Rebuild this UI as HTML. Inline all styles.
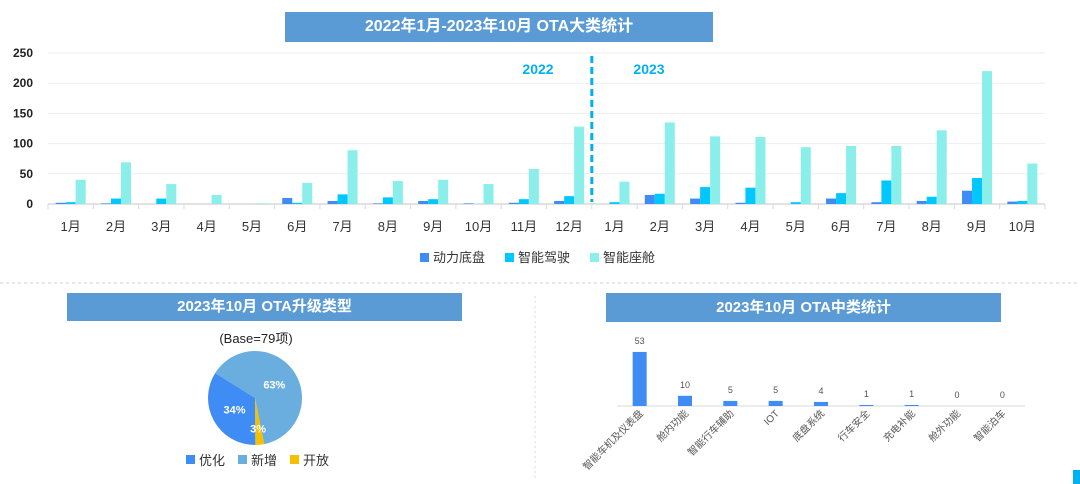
<!DOCTYPE html>
<html><head><meta charset="utf-8">
<style>
body{margin:0;background:#fff;font-family:"Liberation Sans","Noto Sans CJK SC",sans-serif;}
#wrap{position:relative;width:1080px;height:484px;overflow:hidden;}
.tb{position:absolute;background:#5b9bd5;color:#fff;font-weight:bold;text-align:center;font-size:16px;}
</style></head><body>
<div id="wrap">
<div class="tb" style="left:285px;top:12px;width:428px;height:30px;line-height:30px;">2022年1月-2023年10月 OTA大类统计</div>
<div class="tb" style="left:67px;top:293px;width:395px;height:28px;line-height:28px;font-size:15px;">2023年10月 OTA升级类型</div>
<div class="tb" style="left:606px;top:293px;width:395px;height:29px;line-height:29px;font-size:15px;">2023年10月 OTA中类统计</div>
<div style="position:absolute;left:1073px;top:470px;width:7px;height:14px;background:#00b0f0;"></div>
<svg id="svg" width="1080" height="484" style="position:absolute;left:0;top:0;"></svg>
</div>
<script>
const months=["1月","2月","3月","4月","5月","6月","7月","8月","9月","10月","11月","12月","1月","2月","3月","4月","5月","6月","7月","8月","9月","10月"];
const chassis=[2,1,0,0,0,10,5,1,5,1,2,5,0,15,9,2,0,9,3,5,22,4];
const adas=[3,9,9,0,0,2,16,11,8,0,8,13,3,17,28,27,3,18,39,12,43,5];
const cockpit=[40,69,33,15,1,35,89,38,40,33,58,128,37,135,112,111,94,96,96,122,220,67];
const yTicks=[0,50,100,150,200,250];
const pieLabels=["新增","开放","优化"];
const pieValues=[63,3,34];
const subCats=["智能车机及仪表盘","舱内功能","智能行车辅助","IOT","底盘系统","行车安全","充电补能","舱外功能","智能泊车"];
const subValues=[53,10,5,5,4,1,1,0,0];

const NS="http://www.w3.org/2000/svg";
const svg=document.getElementById('svg');
function mk(t,a,p){const e=document.createElementNS(NS,t);for(const k in a)e.setAttribute(k,a[k]);(p||svg).appendChild(e);return e;}
const X0=48,X1=1045,Y0=204,Y1=53;
const cw=(X1-X0)/months.length;
const ys=v=>Y0-(v/250)*(Y0-Y1);
yTicks.forEach(t=>{
  const l=mk('line',{x1:X0,x2:X1,y1:ys(t),y2:ys(t),stroke:t?'#eeeeee':'#d9d9d9','stroke-width':t?1:1.5});
  
  
  const tx=mk('text',{x:33,y:ys(t)+4,'text-anchor':'end','font-size':12,'font-weight':'bold',fill:'#222'});
  tx.textContent=t;
  
  
});
for(let i=0;i<=months.length;i++){
  const l=mk('line',{x1:X0+i*cw,x2:X0+i*cw,y1:Y0,y2:Y0+5,stroke:'#d9d9d9'});
  
  
}
const series=[[chassis,'#3f8cf5'],[adas,'#00c8ff'],[cockpit,'#8aeeea']];
const bw=10;
months.forEach((m,i)=>{
  const cx=X0+(i+0.5)*cw;
  series.forEach((s,j)=>{
    const v=s[0][i];
    const r=mk('rect',{x:cx-15+j*bw,y:ys(v),width:bw,height:Y0-ys(v),fill:s[1]});
    
    
  });
  const t=mk('text',{x:cx,y:231,'text-anchor':'middle','font-size':13,fill:'#333'});
  t.textContent=m;
  
  
});
const dv=mk('line',{x1:X0+12*cw,x2:X0+12*cw,y1:56,y2:202,stroke:'#00b0f0','stroke-width':3,'stroke-dasharray':'7,4'});


[["2022",538],["2023",649]].forEach(a=>{const t=mk('text',{x:a[1],y:74,'text-anchor':'middle','font-size':14,'font-weight':'bold',fill:'#00b0f0'});t.textContent=a[0];

});
[["动力底盘",'#3f8cf5',420],["智能驾驶",'#00c8ff',505],["智能座舱",'#8aeeea',590]].forEach(a=>{
  const r=mk('rect',{x:a[2],y:253,width:9,height:9,fill:a[1]});
  
  
  const t=mk('text',{x:a[2]+13,y:262,'font-size':13,fill:'#333'});t.textContent=a[0];
  
  
});
const hs=mk('line',{x1:0,x2:1080,y1:283,y2:283,stroke:'#d0d0d0','stroke-dasharray':'3,3'});


const vs=mk('line',{x1:535,x2:535,y1:296,y2:478,stroke:'#d8d8d8','stroke-dasharray':'2,3'});


const base=mk('text',{x:256,y:343,'text-anchor':'middle','font-size':13,fill:'#222'});base.textContent="(Base=79项)";


const PCX=255,PCY=398,PR=47;
const pieColors=['#6aaee0','#f5c000','#3f8cf5'];
const total=pieValues.reduce((a,b)=>a+b,0);
let ang=302*Math.PI/180;
const labelPos=[];
pieValues.forEach((v,i)=>{
  const a2=ang+v/total*2*Math.PI;
  const p=(a)=>[PCX+PR*Math.sin(a),PCY-PR*Math.cos(a)];
  const s=p(ang),e=p(a2);
  const path=mk('path',{d:`M${PCX},${PCY}L${s[0]},${s[1]}A${PR},${PR} 0 ${a2-ang>Math.PI?1:0} 1 ${e[0]},${e[1]}Z`,fill:pieColors[i]});
  
  
  const mid=(ang+a2)/2,lr=v<10?PR*0.65:PR*0.5;
  labelPos.push([PCX+lr*Math.sin(mid),PCY-lr*Math.cos(mid)+4,Math.round(v/total*100)+'%']);
  ang=a2;
});
labelPos.forEach(lp=>{
  const t=mk('text',{x:lp[0],y:lp[1],'text-anchor':'middle','font-size':11,'font-weight':'bold',fill:'#fff'});
  t.textContent=lp[2];
  
  
});
[["优化",'#3f8cf5',186],["新增",'#6aaee0',238],["开放",'#f5c000',290]].forEach(a=>{
  const r=mk('rect',{x:a[2],y:455,width:9,height:9,fill:a[1]});
  
  
  const t=mk('text',{x:a[2]+13,y:465,'font-size':13,fill:'#333'});t.textContent=a[0];
  
  
});
const BX0=617,BX1=1025,BY0=406;
const bcw=(BX1-BX0)/subCats.length;
const bys=v=>BY0-v*1.02;
const bl=mk('line',{x1:BX0,x2:BX1,y1:BY0,y2:BY0,stroke:'#d9d9d9'});


subCats.forEach((c,i)=>{
  const cx=BX0+(i+0.5)*bcw,v=subValues[i];
  const r=mk('rect',{x:cx-7,y:bys(v),width:14,height:BY0-bys(v),fill:'#3f8cf5'});
  
  
  const t=mk('text',{x:cx,y:bys(v)-8,'text-anchor':'middle','font-size':9,fill:'#555'});t.textContent=v;
  
  
  const l=mk('text',{x:cx+4,y:414,'text-anchor':'end','font-size':10,fill:'#555',transform:`rotate(-45 ${cx+4} 414)`});l.textContent=c;
  
  
});
</script>
</body></html>
